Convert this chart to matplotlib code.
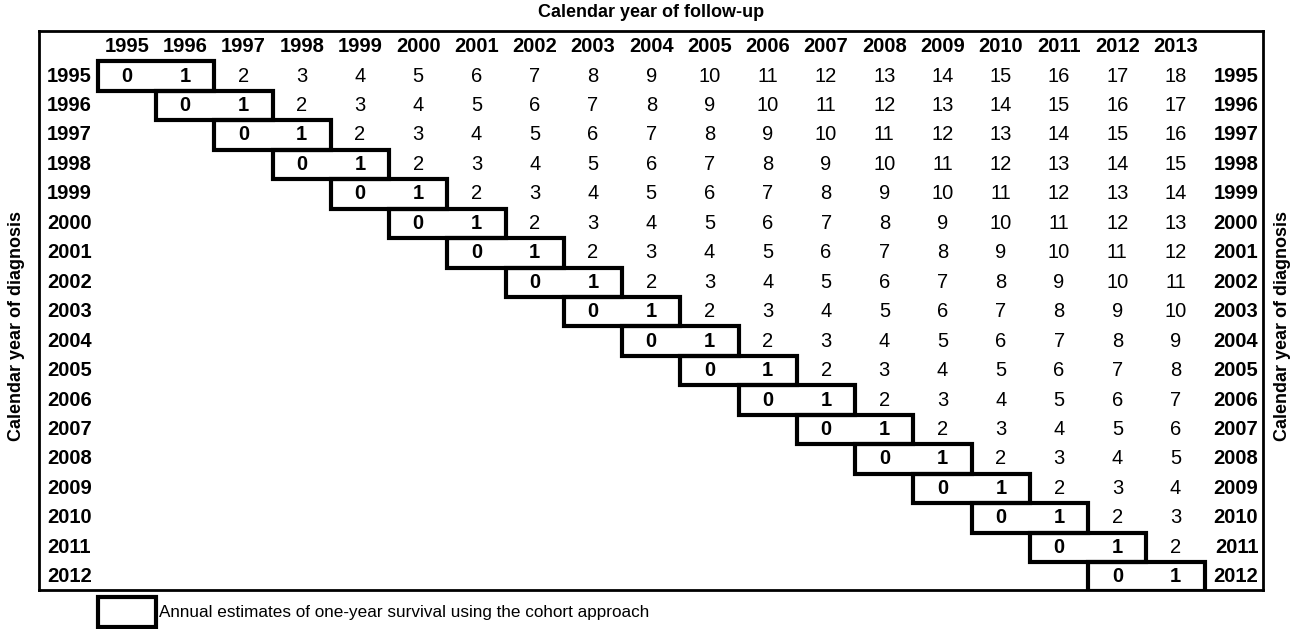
import numpy as np
import matplotlib
matplotlib.use("Agg")
import matplotlib.pyplot as plt
from matplotlib.patches import Rectangle

plt.rcParams['font.family'] = ['Liberation Sans', 'DejaVu Sans']

# data
diag_years = list(range(1995, 2013))      # calendar year of diagnosis (rows)
follow_years = list(range(1995, 2014))    # calendar year of follow-up (columns)
col_title = 'Calendar year of follow-up'
row_title = 'Calendar year of diagnosis'
legend_text = 'Annual estimates of one-year survival using the cohort approach'

W, H = 1295, 629
fig = plt.figure(figsize=(W / 100, H / 100), dpi=100)
ax = fig.add_axes([39 / W, 1 - 590 / H, (1263 - 39) / W, (590 - 31) / H])
ax.set_xlim(-1.51, 19.5)
ax.set_ylim(17.45, -1.53)
ax.set_xticks([])
ax.set_yticks([])
for sp in ax.spines.values():
    sp.set_linewidth(2)
    sp.set_color('black')

fs = 14.5
# header row: follow-up years
for j, y in enumerate(follow_years):
    ax.text(j, -1, str(y), ha='center', va='center', fontsize=fs, fontweight='bold')

# rows: years since diagnosis, boxes over the 0/1 cells
for i, d in enumerate(diag_years):
    ax.text(-1.37, i, str(d), ha='left', va='center', fontsize=fs, fontweight='bold')
    ax.text(19.42, i, str(d), ha='right', va='center', fontsize=fs, fontweight='bold')
    for j, f in enumerate(follow_years):
        k = f - d
        if k < 0:
            continue
        ax.text(j, i, str(k), ha='center', va='center', fontsize=fs,
                fontweight='bold' if k <= 1 else 'normal')
    ax.add_patch(Rectangle((i - 0.5, i - 0.5), 2, 1, fill=False,
                           lw=3, ec='black', zorder=3))

# titles
ax.text(9.0, -2.17, col_title, ha='center', va='center', fontsize=13,
        fontweight='bold', clip_on=False)
ax.text(-1.89, 8.5, row_title, ha='center', va='center', rotation=90,
        fontsize=13, fontweight='bold', clip_on=False)
ax.text(19.83, 8.5, row_title, ha='center', va='center', rotation=90,
        fontsize=13, fontweight='bold', clip_on=False)

# legend
ax.add_patch(Rectangle((-0.5, 17.7), 1, 1, fill=False, lw=3, ec='black',
                       clip_on=False))
ax.text(0.55, 18.2, legend_text, ha='left', va='center', fontsize=12.3,
        clip_on=False)

fig.savefig('out.png', dpi=100)
